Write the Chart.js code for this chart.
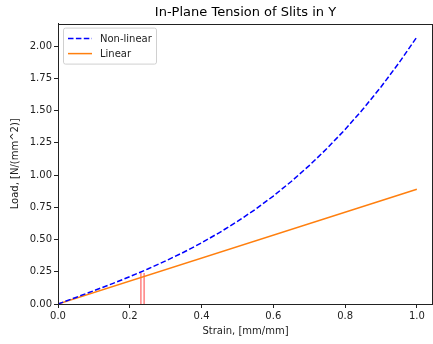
<!DOCTYPE html>
<html>
<head>
<meta charset="utf-8">
<script src="https://cdn.jsdelivr.net/npm/chart.js@4"></script>
<style>
  html, body { margin: 0; padding: 0; background: #fff; }
  #wrap { width: 433px; height: 344px; }
</style>
</head>
<body>
<div id="wrap"><canvas id="slitChart"></canvas></div>
<script>
const strain = [0, 0.05, 0.1, 0.15, 0.2, 0.25, 0.3, 0.35, 0.4, 0.45, 0.5,
                0.55, 0.6, 0.65, 0.7, 0.75, 0.8, 0.85, 0.9, 0.95, 1.0];
const nonlinearLoad = [0, 0.051, 0.103, 0.156, 0.212, 0.271, 0.334, 0.401, 0.474, 0.554, 0.640,
                       0.734, 0.837, 0.950, 1.073, 1.207, 1.353, 1.511, 1.683, 1.869, 2.070];
const linearStrain = [0, 1.0];
const linearLoad = [0, 0.89];
const slitStrain = [0.231, 0.240];
const slitLoad = [0.24, 0.24];
const xTicks = [0, 0.2, 0.4, 0.6, 0.8, 1.0];
const yTicks = [0, 0.25, 0.5, 0.75, 1.0, 1.25, 1.5, 1.75, 2.0];

const font = "'DejaVu Sans', sans-serif";
const ink = '#222';

function pts(xs, ys) {
    return xs.map((x, i) => ({ x: x, y: ys[i] }));
}

const datasets = [
    {
        label: 'Non-linear',
        data: pts(strain, nonlinearLoad),
        borderColor: '#0000ff',
        borderWidth: 1.5,
        borderDash: [5.5, 2.4],
        pointRadius: 0,
        fill: false
    },
    {
        label: 'Linear',
        data: pts(linearStrain, linearLoad),
        borderColor: '#ff7f0e',
        borderWidth: 1.5,
        pointRadius: 0,
        fill: false
    }
];
slitStrain.forEach((s, i) => {
    datasets.push({
        label: 'slit',
        data: [{ x: s, y: 0 }, { x: s, y: slitLoad[i] }],
        borderColor: 'rgba(255, 60, 60, 0.65)',
        borderWidth: 1.5,
        pointRadius: 0,
        fill: false
    });
});

const frameAndLegend = {
    id: 'frameAndLegend',
    afterDraw(chart) {
        const c = chart.ctx;
        const a = chart.chartArea;
        c.save();
        c.strokeStyle = ink;
        c.lineWidth = 1;
        c.strokeRect(Math.round(a.left) + 0.5, Math.round(a.top) + 0.5,
                     Math.round(a.right - a.left) - 1, Math.round(a.bottom - a.top));

        // legend box
        const bx = a.left + 5, by = a.top + 4, bw = 93, bh = 36;
        c.fillStyle = 'rgba(255,255,255,0.8)';
        c.strokeStyle = '#d0d0d0';
        c.beginPath();
        c.roundRect(bx + 0.5, by + 0.5, bw, bh, 2);
        c.fill();
        c.stroke();
        c.font = '10px ' + font;
        c.textBaseline = 'middle';
        chart.data.datasets.slice(0, 2).forEach((ds, i) => {
            const y = by + 11 + i * 15;
            c.strokeStyle = ds.borderColor;
            c.lineWidth = ds.borderWidth;
            c.setLineDash(ds.borderDash || []);
            c.beginPath();
            c.moveTo(bx + 5, y);
            c.lineTo(bx + 29, y);
            c.stroke();
            c.setLineDash([]);
            c.fillStyle = ink;
            c.fillText(ds.label, bx + 37, y + 1);
        });
        c.restore();
    }
};

new Chart(document.getElementById('slitChart').getContext('2d'), {
    type: 'line',
    data: { datasets: datasets },
    options: {
        responsive: true,
        maintainAspectRatio: false,
        animation: false,
        layout: { padding: { left: 9, right: 0, top: 0, bottom: 7 } },
        plugins: {
            legend: { display: false },
            tooltip: { enabled: false },
            title: {
                display: true,
                fullSize: false,
                text: 'In-Plane Tension of Slits in Y',
                color: '#000',
                font: { family: font, size: 13, weight: 'normal' },
                padding: { top: 5, bottom: 3 }
            }
        },
        scales: {
            x: {
                type: 'linear',
                min: 0,
                max: 1.045,
                afterBuildTicks: s => { s.ticks = xTicks.map(v => ({ value: v })); },
                afterFit: s => { s.height = 33; },
                grid: { drawOnChartArea: false, drawTicks: true, tickLength: 4, color: ink },
                border: { display: true, color: ink },
                ticks: {
                    color: ink,
                    font: { family: font, size: 10 },
                    padding: 2,
                    maxRotation: 0,
                    callback: v => v.toFixed(1)
                },
                title: {
                    display: true,
                    text: 'Strain, [mm/mm]',
                    color: ink,
                    font: { family: font, size: 10 },
                    padding: { top: 2, bottom: 0 }
                }
            },
            y: {
                type: 'linear',
                min: 0,
                max: 2.174,
                afterBuildTicks: s => { s.ticks = yTicks.map(v => ({ value: v })); },
                afterFit: s => { s.width = 49; },
                grid: { drawOnChartArea: false, drawTicks: true, tickLength: 4, color: ink },
                border: { display: true, color: ink },
                ticks: {
                    color: ink,
                    font: { family: font, size: 10 },
                    padding: 2,
                    callback: v => v.toFixed(2)
                },
                title: {
                    display: true,
                    text: 'Load, [N/(mm^2)]',
                    color: ink,
                    font: { family: font, size: 10 },
                    padding: { top: 0, bottom: 4 }
                }
            }
        }
    },
    plugins: [frameAndLegend]
});
</script>
</body>
</html>
